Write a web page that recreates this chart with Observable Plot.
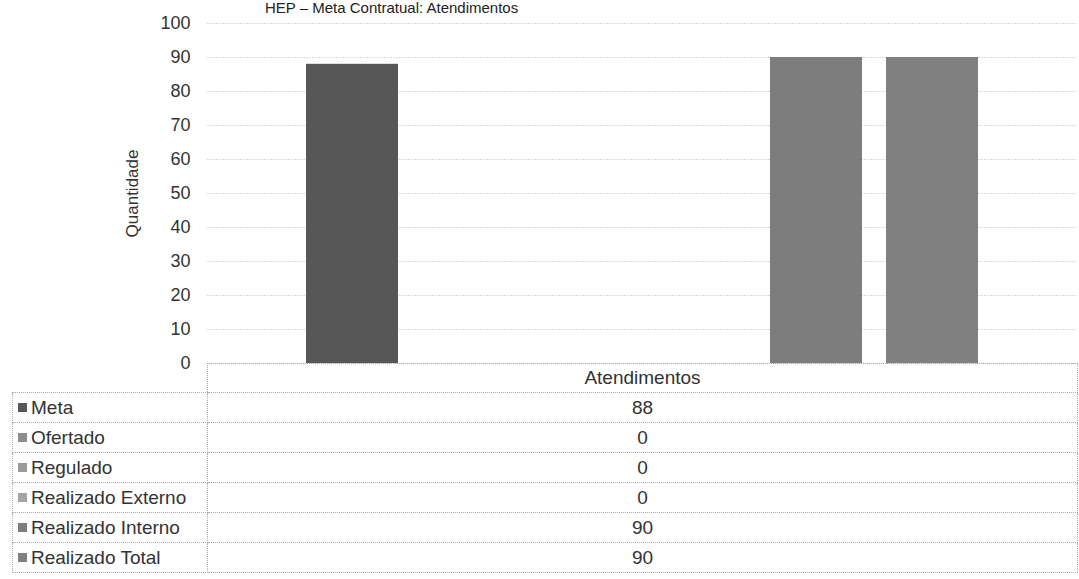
<!DOCTYPE html>
<html>
<head>
<meta charset="utf-8">
<script src="https://cdn.jsdelivr.net/npm/d3@7"></script>
<script src="https://cdn.jsdelivr.net/npm/@observablehq/plot@0.6"></script>
<style>
  html, body { margin: 0; padding: 0; background: #fff; }
  body { font-family: "Liberation Sans", Arial, sans-serif; color: #333; }
  #wrap { position: relative; width: 1079px; height: 579px; overflow: hidden; }
  #title { position: absolute; top: -1px; left: 265px; font-size: 15px; line-height: 17px; color: #222; white-space: nowrap; }
  #chart { position: absolute; top: 0; left: 0; }
  #tbl { position: absolute; top: 363px; left: 12px; border-collapse: collapse; font-size: 19px; color: #333; }
  #tbl td { padding: 0; height: 30px; box-sizing: border-box; }
  #tbl td.lab { width: 195px; border: 1px dotted #aaa; padding-left: 5px; white-space: nowrap; }
  #tbl td.val { width: 870px; border: 1px dotted #aaa; text-align: center; }
  #tbl tr.head td { height: 29px; }
  #tbl tr.head td.empty { border: none; border-bottom: 1px dotted #aaa; }
  .sw { display: inline-block; width: 9px; height: 9px; margin-right: 4px; vertical-align: 2px; }
</style>
</head>
<body>
<div id="wrap">
  <div id="title">HEP – Meta Contratual: Atendimentos</div>
  <div id="chart"></div>
  <table id="tbl"></table>
</div>
<script>
const category = "Atendimentos";
const series = ["Meta", "Ofertado", "Regulado", "Realizado Externo", "Realizado Interno", "Realizado Total"];
const values = [88, 0, 0, 0, 90, 90];
const colors = ["#575757", "#8c8c8c", "#9a9a9a", "#a5a5a5", "#7d7d7d", "#808080"];
const yTicks = [0, 10, 20, 30, 40, 50, 60, 70, 80, 90, 100];

const data = series.map((s, i) => ({serie: s, valor: values[i]}));

const chart = Plot.plot({
  width: 1079,
  height: 380,
  marginTop: 23,
  marginBottom: 17,
  marginLeft: 207,
  marginRight: 2,
  style: {fontFamily: "Liberation Sans, Arial, sans-serif", fontSize: "18px", color: "#333", overflow: "visible"},
  x: {domain: series, paddingInner: 0.21, paddingOuter: 0.83, axis: null},
  y: {domain: [0, 100], ticks: yTicks, label: "Quantidade"},
  color: {domain: series, range: colors},
  marks: [
    Plot.gridY(yTicks, {stroke: "#dadada", strokeOpacity: 1, strokeDasharray: "2,1"}),
    Plot.barY(data, {x: "serie", y: "valor", fill: "serie"}),
    Plot.axisY({ticks: yTicks, tickSize: 0, tickPadding: 17, fontSize: 18, label: null}),
    Plot.axisY({ticks: [], tickSize: 0, fontSize: 17, label: "Quantidade", labelAnchor: "center", labelArrow: "none", labelOffset: 82})
  ]
});
document.getElementById("chart").appendChild(chart);

const tbl = document.getElementById("tbl");
let html = `<tr class="head"><td class="lab empty" style="border-left:none;border-top:none"></td><td class="val">${category}</td></tr>`;
series.forEach((s, i) => {
  html += `<tr><td class="lab"><span class="sw" style="background:${colors[i]}"></span>${s}</td><td class="val">${values[i]}</td></tr>`;
});
tbl.innerHTML = html;
</script>
</body>
</html>
